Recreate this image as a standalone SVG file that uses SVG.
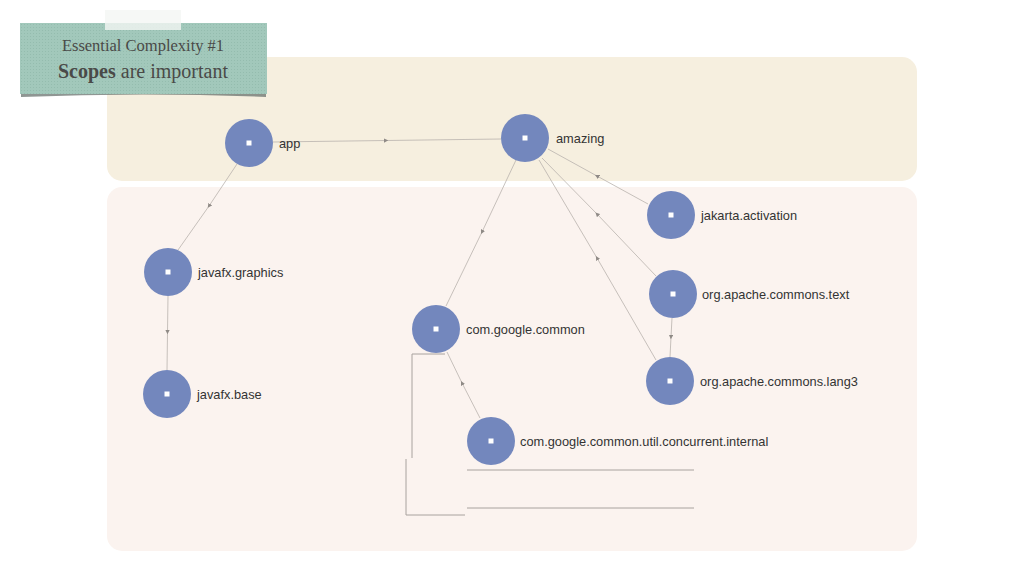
<svg xmlns="http://www.w3.org/2000/svg" width="1024" height="576" viewBox="0 0 1024 576">
<style>
.lbl{font-family:"Liberation Sans",Arial,sans-serif;font-size:12.8px;fill:#333}
.node{fill:#7387bd}
.dot{fill:#fff}
.edge{stroke:#b9b3ad;stroke-width:0.8;fill:none;marker-mid:url(#arr)}
.brk{stroke:#a8a29e;stroke-width:1;fill:none}
.t1{font-family:"Liberation Serif","Times New Roman",serif;fill:#4a4a48}
</style>
<defs>
<marker id="arr" viewBox="0 0 6 6" refX="3" refY="3" markerWidth="4.5" markerHeight="4.5" markerUnits="userSpaceOnUse" orient="auto">
<path d="M0,0 L6,3 L0,6 z" fill="#8f8a86"/>
</marker>
<pattern id="tex" width="3" height="3" patternUnits="userSpaceOnUse">
<rect width="3" height="3" fill="#a2c8bb"/>
<rect width="1" height="1" fill="#94bcae"/>
</pattern>
</defs>
<rect width="1024" height="576" fill="#ffffff"/>
<g id="bands">
<rect x="107" y="57" width="810" height="124" rx="15" fill="#f6efdf"/>
<rect x="107" y="187" width="810" height="364" rx="15" fill="#fbf3ef"/>
</g>
<g id="title">
<path d="M21,90 Q143,96 266,90 L266,97 Q143,92 21,97 z" fill="#5f6a65" opacity="0.7"/>
<rect x="20" y="23" width="247" height="71" fill="url(#tex)"/>
<rect x="105" y="10" width="76" height="20" fill="#f4f6f4" opacity="0.8"/>
<text class="t1" x="143" y="51" font-size="16.5" text-anchor="middle">Essential Complexity #1</text>
<text class="t1" x="143" y="78" font-size="20" text-anchor="middle"><tspan font-weight="bold">Scopes</tspan> are important</text>
</g>
<g id="connectors">
<path class="edge" d="M273,142 L386,140.5 L501,139"/>
<path class="edge" d="M237,164 L209,206 L178,250"/>
<path class="edge" d="M168,296 L167.5,332 L167,370"/>
<path class="edge" d="M516,160 L482,232 L446,306"/>
<path class="edge" d="M648,204 L597,176 L548,149"/>
<path class="edge" d="M656,276 L597,214 L542,158"/>
<path class="edge" d="M656,360 L597,258 L539,160"/>
<path class="edge" d="M672,318 L671,337 L670,357"/>
<path class="edge" d="M480,418 L462,383 L447,352"/>
<path class="brk" d="M445,354 H412 V458"/>
<path class="brk" d="M406,459 V515 H465"/>
<path class="brk" d="M467,470 H694 M467,508 H694"/>
</g>
<g id="n-app"><circle class="node" cx="249" cy="143" r="24"/><rect class="dot" x="246.5" y="140.5" width="5" height="5"/><text class="lbl" x="279" y="148">app</text></g>
<g id="n-amazing"><circle class="node" cx="525" cy="138" r="24"/><rect class="dot" x="522.5" y="135.5" width="5" height="5"/><text class="lbl" x="556" y="143">amazing</text></g>
<g id="n-jakarta"><circle class="node" cx="671" cy="215" r="24"/><rect class="dot" x="668.5" y="212.5" width="5" height="5"/><text class="lbl" x="701" y="220">jakarta.activation</text></g>
<g id="n-text"><circle class="node" cx="673" cy="294" r="24"/><rect class="dot" x="670.5" y="291.5" width="5" height="5"/><text class="lbl" x="702" y="299">org.apache.commons.text</text></g>
<g id="n-lang3"><circle class="node" cx="670" cy="381" r="24"/><rect class="dot" x="667.5" y="378.5" width="5" height="5"/><text class="lbl" x="700" y="386">org.apache.commons.lang3</text></g>
<g id="n-gcommon"><circle class="node" cx="436" cy="329" r="24"/><rect class="dot" x="433.5" y="326.5" width="5" height="5"/><text class="lbl" x="466" y="334">com.google.common</text></g>
<g id="n-internal"><circle class="node" cx="491" cy="441" r="24"/><rect class="dot" x="488.5" y="438.5" width="5" height="5"/><text class="lbl" x="520" y="446">com.google.common.util.concurrent.internal</text></g>
<g id="n-graphics"><circle class="node" cx="168" cy="272" r="24"/><rect class="dot" x="165.5" y="269.5" width="5" height="5"/><text class="lbl" x="198" y="277">javafx.graphics</text></g>
<g id="n-base"><circle class="node" cx="167" cy="394" r="24"/><rect class="dot" x="164.5" y="391.5" width="5" height="5"/><text class="lbl" x="197" y="399">javafx.base</text></g>
</svg>
